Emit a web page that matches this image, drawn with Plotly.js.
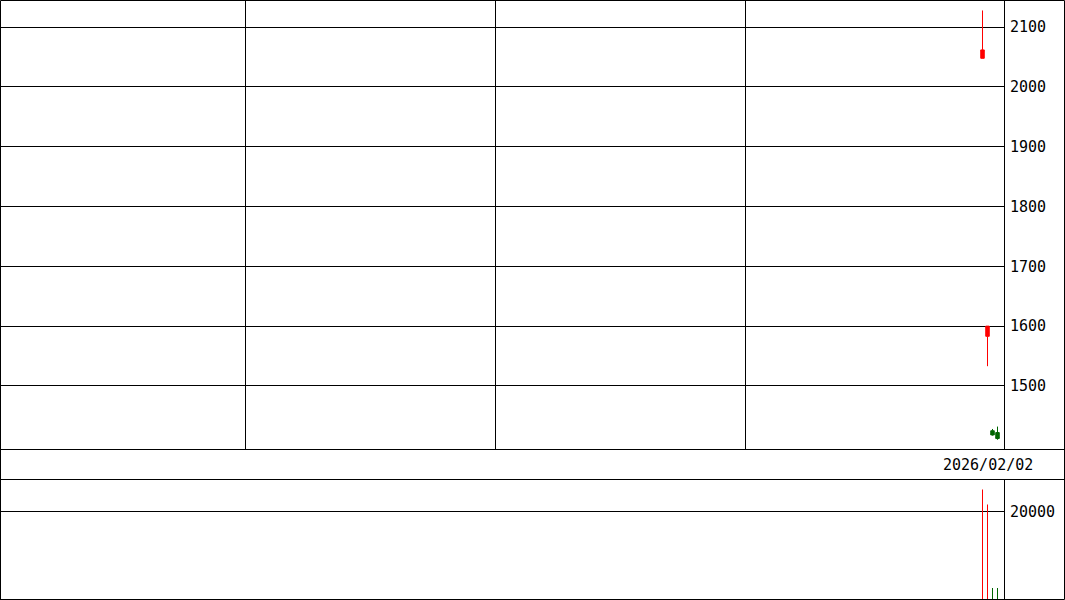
<!DOCTYPE html>
<html>
<head>
<meta charset="utf-8">
<script src="https://cdn.plot.ly/plotly-3.0.1.min.js"></script>
<style>
  html, body { margin: 0; padding: 0; background: #fff; }
  #chart { width: 1065px; height: 600px; }
</style>
</head>
<body>
<div id="chart"></div>
<script>
// day slots on the x axis (200 trading-day window, last four days traded)
const slots = [196, 197, 198, 199];
const opens = [2048, 1583, 1425, 1422];
const highs = [2128, 1600, 1428, 1432];
const lows = [2048, 1533, 1417, 1410];
const closes = [2062, 1600, 1418, 1412];
const volumes = [25000, 21600, 2500, 2500];

const priceTicks = [1500, 1600, 1700, 1800, 1900, 2000, 2100];
const volumeTicks = [20000];
const lastDate = "2026/02/02";

const upColor = "#ff0000";
const downColor = "#006400";
const font = { family: "DejaVu Sans Mono", size: 15, color: "#000" };

const W = 1065, H = 600, PLOT_R = 1004;

const volColors = opens.map((o, i) => (closes[i] >= o ? upColor : downColor));

const candles = {
  type: "candlestick",
  x: slots,
  open: opens,
  high: highs,
  low: lows,
  close: closes,
  xaxis: "x",
  yaxis: "y",
  whiskerwidth: 0,
  increasing: { line: { color: upColor, width: 1 }, fillcolor: upColor },
  decreasing: { line: { color: downColor, width: 1 }, fillcolor: downColor },
  hoverinfo: "skip",
  showlegend: false,
};

const volumeBars = {
  type: "bar",
  x: slots,
  y: volumes,
  xaxis: "x2",
  yaxis: "y2",
  width: 0.2,
  marker: { color: volColors, line: { width: 0 } },
  hoverinfo: "skip",
  showlegend: false,
};

const xRange = [-0.5, 200.3];

var layout = {
  width: W,
  height: H,
  margin: { l: 0, r: W - PLOT_R, t: 0, b: 0, pad: 0 },
  paper_bgcolor: "#fff",
  plot_bgcolor: "#fff",
  font: font,
  showlegend: false,
  boxgap: 0,
  xaxis: {
    domain: [0, 1],
    anchor: "y",
    range: xRange,
    tickvals: [48.5, 98.5, 148.5],
    showticklabels: false,
    ticks: "",
    showgrid: true,
    gridcolor: "#000",
    gridwidth: 1,
    zeroline: false,
    showline: true,
    linecolor: "#000",
    linewidth: 1,
    mirror: true,
    rangeslider: { visible: false },
    fixedrange: true,
  },
  yaxis: {
    domain: [1 - 449 / H, 1],
    anchor: "x",
    side: "right",
    range: [1394.5, 2145.5],
    tickvals: priceTicks,
    ticktext: priceTicks.map(String),
    ticks: "",
    ticklabelstandoff: 2,
    showgrid: true,
    gridcolor: "#000",
    gridwidth: 1,
    zeroline: false,
    showline: true,
    linecolor: "#000",
    linewidth: 1,
    mirror: true,
    tickfont: font,
    fixedrange: true,
  },
  xaxis2: {
    domain: [0, 1],
    anchor: "y2",
    range: xRange,
    showticklabels: false,
    ticks: "",
    showgrid: false,
    zeroline: false,
    showline: true,
    linecolor: "#000",
    linewidth: 1,
    mirror: true,
    fixedrange: true,
  },
  yaxis2: {
    domain: [1 / H, 1 - 479.5 / H],
    anchor: "x2",
    side: "right",
    range: [0, 27314],
    tickvals: volumeTicks,
    ticktext: volumeTicks.map(String),
    ticks: "",
    ticklabelstandoff: 2,
    showgrid: true,
    gridcolor: "#000",
    gridwidth: 1,
    zeroline: false,
    showline: true,
    linecolor: "#000",
    linewidth: 1,
    mirror: true,
    tickfont: font,
    fixedrange: true,
  },
  shapes: [
    {
      type: "rect",
      xref: "paper",
      yref: "paper",
      x0: 0.5 / PLOT_R,
      x1: (W - 0.5) / PLOT_R,
      y0: 0.5 / H,
      y1: 1 - 0.5 / H,
      line: { color: "#000", width: 1 },
    },
    {
      type: "line",
      xref: "paper",
      yref: "paper",
      x0: 0,
      x1: W / PLOT_R,
      y0: 1 - 449.5 / H,
      y1: 1 - 449.5 / H,
      line: { color: "#000", width: 1 },
    },
    {
      type: "line",
      xref: "paper",
      yref: "paper",
      x0: 0,
      x1: W / PLOT_R,
      y0: 1 - 479.5 / H,
      y1: 1 - 479.5 / H,
      line: { color: "#000", width: 1 },
    },
  ],
  annotations: [
    {
      text: lastDate,
      xref: "paper",
      yref: "paper",
      x: 1035 / PLOT_R,
      y: 1 - 465 / H,
      xanchor: "right",
      yanchor: "middle",
      showarrow: false,
      font: font,
    },
  ],
};

Plotly.newPlot("chart", [candles, volumeBars], layout, {
  displayModeBar: false,
  staticPlot: true,
});
</script>
</body>
</html>
